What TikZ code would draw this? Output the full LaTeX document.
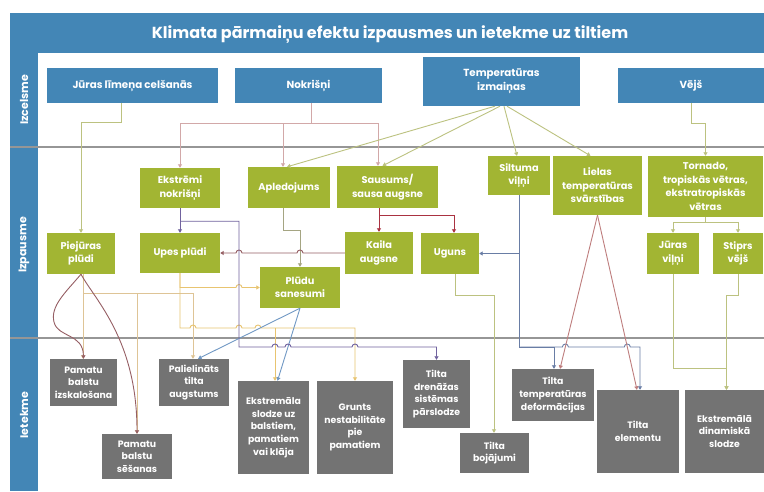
\documentclass[tikz,border=0pt]{standalone}
\usepackage{fontspec}
\setmainfont{Poppins}
\usetikzlibrary{arrows.meta}
\definecolor{hdrblue}{RGB}{67,134,182}
\definecolor{effgreen}{RGB}{162,181,51}
\definecolor{impgray}{RGB}{115,115,115}
\definecolor{sepgray}{RGB}{150,150,150}
\definecolor{olvline}{RGB}{188,194,128}
\definecolor{pnkline}{RGB}{210,168,168}
\definecolor{prpline}{RGB}{112,98,158}
\definecolor{orgline}{RGB}{232,196,112}
\definecolor{tanline}{RGB}{222,196,150}
\definecolor{bluline}{RGB}{112,152,196}
\definecolor{sltline}{RGB}{105,125,165}
\definecolor{redline}{RGB}{170,50,65}
\definecolor{brnline}{RGB}{150,95,100}
\definecolor{lieline}{RGB}{190,125,125}
\definecolor{grlline}{RGB}{165,165,130}

\begin{document}
\begin{tikzpicture}[x=1pt,y=-1pt,
  srcbox/.style={fill=hdrblue,text=white,align=center,inner sep=0pt,
    font=\bfseries\fontsize{10.3}{14}\selectfont},
  effbox/.style={fill=effgreen,text=white,align=center,inner sep=0pt,
    font=\bfseries\fontsize{9.8}{13.5}\selectfont},
  impbox/.style={fill=impgray,text=white,align=center,inner sep=0pt,
    font=\bfseries\fontsize{9.3}{12.7}\selectfont},
  zonelbl/.style={rotate=90,text=white,font=\bfseries\fontsize{11}{12}\selectfont},
  lnk/.style={line width=0.9pt},
  tipped/.style={-{Triangle[length=3.5pt,width=4pt]}}]
\useasboundingbox (0,0) rectangle (764,491);
\fill[white] (0,0) rectangle (764,491);
\fill[hdrblue] (10,13) rectangle (764,53);
\fill[hdrblue] (10,53) rectangle (38,491);
\draw[sepgray, line width=1.2pt] (10,147) -- (764,147);
\draw[sepgray, line width=1.2pt] (10,338) -- (764,338);
\node[text=white,font=\bfseries\fontsize{16}{18}\selectfont] (title) at (390,35) {Klimata pārmaiņu efektu izpausmes un ietekme uz tiltiem};
\node[zonelbl] (zsrc) at (24,100) {Izcelsme};
\node[zonelbl] (zeff) at (24,245) {Izpausme};
\node[zonelbl] (zimp) at (24,415) {Ietekme};

% izcelsme
\node[srcbox,minimum width=171pt,minimum height=35pt] (jura) at (132.5,85.5) {Jūras līmeņa celšanās};
\node[srcbox,minimum width=147pt,minimum height=35pt] (nokr) at (308.5,85.5) {Nokrišņi};
\node[srcbox,minimum width=157pt,minimum height=49pt] (temp) at (501.5,81.5) {Temperatūras\\izmaiņas};
\node[srcbox,minimum width=146pt,minimum height=35pt] (vejs) at (691,85.5) {Vējš};

% izpausme
\node[effbox,minimum width=80pt,minimum height=40pt] (ekstr) at (180,188) {Ekstrēmi\\nokrišņi};
\node[effbox,minimum width=82pt,minimum height=41pt] (apled) at (289,187.5) {Apledojums};
\node[effbox,minimum width=101pt,minimum height=42pt] (sausums) at (387.5,187) {Sausums/\\sausa augsne};
\node[effbox,minimum width=62pt,minimum height=39pt] (siltuma) at (519,175.5) {Siltuma\\viļņi};
\node[effbox,minimum width=89pt,minimum height=59pt] (lielas) at (597.5,185.5) {Lielas\\temperatūras\\svārstības};
\node[effbox,minimum width=115pt,minimum height=61pt] (tornado) at (705.5,186.5) {Tornado,\\tropiskās vētras,\\ekstratropiskās\\vētras};
\node[effbox,minimum width=52pt,minimum height=41pt] (juravilni) at (673,253.5) {Jūras\\viļņi};
\node[effbox,minimum width=50pt,minimum height=41pt] (stiprs) at (738,253.5) {Stiprs\\vējš};
\node[effbox,minimum width=68pt,minimum height=41pt] (piejura) at (81,253.5) {Piejūras\\plūdi};
\node[effbox,minimum width=80pt,minimum height=40pt] (upes) at (180,253) {Upes plūdi};
\node[effbox,minimum width=68pt,minimum height=42pt] (kaila) at (379,253) {Kaila\\augsne};
\node[effbox,minimum width=58pt,minimum height=41pt] (uguns) at (450,253.5) {Uguns};
\node[effbox,minimum width=80pt,minimum height=41pt] (sanesumi) at (300,287.5) {Plūdu\\sanesumi};

% ietekme
\node[impbox,minimum width=67pt,minimum height=47pt] (izskal) at (83.5,382.5) {Pamatu\\balstu\\izskalošana};
\node[impbox,minimum width=70pt,minimum height=45pt] (sesanas) at (137,456.5) {Pamatu\\balstu\\sēšanas};
\node[impbox,minimum width=70pt,minimum height=47pt] (augstums) at (194,382.5) {Palielināts\\tilta\\augstums};
\node[impbox,minimum width=71pt,minimum height=93pt] (slodze) at (273.5,427.5) {Ekstremāla\\slodze uz\\balstiem,\\pamatiem\\vai klāja};
\node[impbox,minimum width=76pt,minimum height=93pt] (grunts) at (355,427.5) {Grunts\\nestabilitāte\\pie\\pamatiem};
\node[impbox,minimum width=67pt,minimum height=68pt] (drenaza) at (436.5,394) {Tilta\\drenāžas\\sistēmas\\pārslodze};
\node[impbox,minimum width=69pt,minimum height=40pt] (bojajumi) at (494.5,453) {Tilta\\bojājumi};
\node[impbox,minimum width=82pt,minimum height=52pt] (deform) at (553,395) {Tilta\\temperatūras\\deformācijas};
\node[impbox,minimum width=82pt,minimum height=83pt] (elementu) at (638,431.5) {Tilta\\elementu};
\node[impbox,minimum width=79pt,minimum height=83pt] (dinam) at (724.5,431.5) {Ekstremālā\\dinamiskā\\slodze};

% izcelsme -> izpausme
\draw[lnk,tipped,olvline] ([xshift=-11.5pt]jura.south) |- (81,122) -- (piejura.north);
\draw[lnk,pnkline] ([xshift=2.5pt]nokr.south) -- ++(0,20) coordinate (nk);
\draw[lnk,tipped,pnkline] (nk) -| (ekstr.north);
\draw[lnk,tipped,pnkline] (nk) -| ([xshift=-6pt]apled.north);
\draw[lnk,tipped,pnkline] (nk) -| ([xshift=-9.5pt]sausums.north);
\draw[lnk,tipped,olvline] ([xshift=-6.5pt]temp.south) -- ([xshift=-2pt]apled.north);
\draw[lnk,tipped,olvline] ([xshift=-1.5pt]temp.south) -- ([xshift=-5pt]sausums.north);
\draw[lnk,tipped,olvline] ([xshift=2.5pt]temp.south) -- ([xshift=-2pt]siltuma.north);
\draw[lnk,tipped,olvline] ([xshift=5.5pt]temp.south) -- ([xshift=-7pt]lielas.north);
\draw[lnk,tipped,olvline] (vejs.south) -- ++(0,20) -| (tornado.north);
\draw[lnk,olvline] (tornado.south) -- ++(0,5) coordinate (tj);
\draw[lnk,tipped,olvline] (tj) -| (juravilni.north);
\draw[lnk,tipped,olvline] (tj) -| (stiprs.north);

% izpausme -> izpausme
\draw[lnk,tipped,prpline] (ekstr.south) -- (upes.north);
\draw[lnk,tipped,redline] ([xshift=-8.5pt]sausums.south) -- (kaila.north);
\draw[lnk,tipped,redline] ([xshift=-8.5pt]sausums.south) ++(0,7) -| ([xshift=4pt]uguns.north);
\draw[lnk,tipped,grlline] ([xshift=-6pt]apled.south) -- ++(0,22) -| (sanesumi.north);
\draw[lnk,tipped,brnline] (kaila.west) -- (303,253) arc[start angle=0,end angle=180,radius=3pt]
  -- (242,253) arc[start angle=0,end angle=180,radius=3pt] -- (upes.east);
\draw[lnk,tipped,orgline] (upes.south) -- (180,287.5) -- (236,287.5)
  arc[start angle=180,end angle=0,radius=3pt] -- (sanesumi.west);
\draw[lnk,sltline] (siltuma.south) -- ++(0,152) coordinate (sb);
\draw[lnk,tipped,sltline] (siltuma.south |- uguns.east) -- (uguns.east);

% izpausme -> ietekme
\draw[lnk,tipped,tanline] ([xshift=2pt]piejura.south) -- ([xshift=-0.5pt]izskal.north);
\draw[lnk,tipped,tanline] ([xshift=2pt]piejura.south) ++(0,19) -| (sesanas.north);
\draw[lnk,tipped,tanline] ([xshift=2pt]piejura.south) ++(0,19) -| ([xshift=-1pt]augstums.north);
\draw[lnk,tipped,brnline] (piejura.south) .. controls (66,292) and (50,306) .. (54,322)
  .. controls (58,338) and (83,333) .. (izskal.north);
\draw[lnk,tipped,brnline] (piejura.south) .. controls (95,300) and (137,340) .. (sesanas.north);
\draw[lnk,tipped,orgline] (upes.south) -- (180,328) -- (190,328) arc[start angle=180,end angle=0,radius=3pt]
  -- (236,328) arc[start angle=180,end angle=0,radius=3pt]
  -- (255,328) arc[start angle=180,end angle=0,radius=3pt]
  -- (275,328) coordinate (ob) -| (grunts.north);
\draw[lnk,tipped,orgline] (ob) -- ([xshift=1.5pt]slodze.north);
\draw[lnk,tipped,bluline] (sanesumi.south) -- ([xshift=4pt]augstums.north);
\draw[lnk,tipped,bluline] (sanesumi.south) -- ([xshift=4pt]slodze.north);
\draw[lnk,tipped,prpline] (ekstr.south) ++(0,13) -| (239,347) -- (272,347)
  arc[start angle=180,end angle=0,radius=3pt] -- (285,347)
  arc[start angle=180,end angle=0,radius=3pt] -- (352,347)
  arc[start angle=180,end angle=0,radius=3pt] -| (drenaza.north);
\draw[lnk,tipped,olvline] ([xshift=5pt]uguns.south) -- ++(0,21) -| ([xshift=-0.5pt]bojajumi.north);
\draw[lnk,tipped,sltline] (sb) -| ([xshift=1pt]deform.north);
\draw[lnk,tipped,sltline] (sb) -- (562.4,347) arc[start angle=180,end angle=0,radius=3pt]
  -- (624.3,347) arc[start angle=180,end angle=0,radius=3pt] -| ([xshift=2pt]elementu.north);
\draw[lnk,tipped,lieline] (lielas.south) -- ([xshift=7pt]deform.north);
\draw[lnk,tipped,lieline] (lielas.south) -- ([xshift=-1pt]elementu.north);
\draw[lnk,tipped,olvline] (juravilni.south) -- ++(0,94) -| ([xshift=2pt]dinam.north);
\draw[lnk,tipped,olvline] (stiprs.south) -- ++(0,21) -| ([xshift=2pt]dinam.north);
\end{tikzpicture}
\end{document}
